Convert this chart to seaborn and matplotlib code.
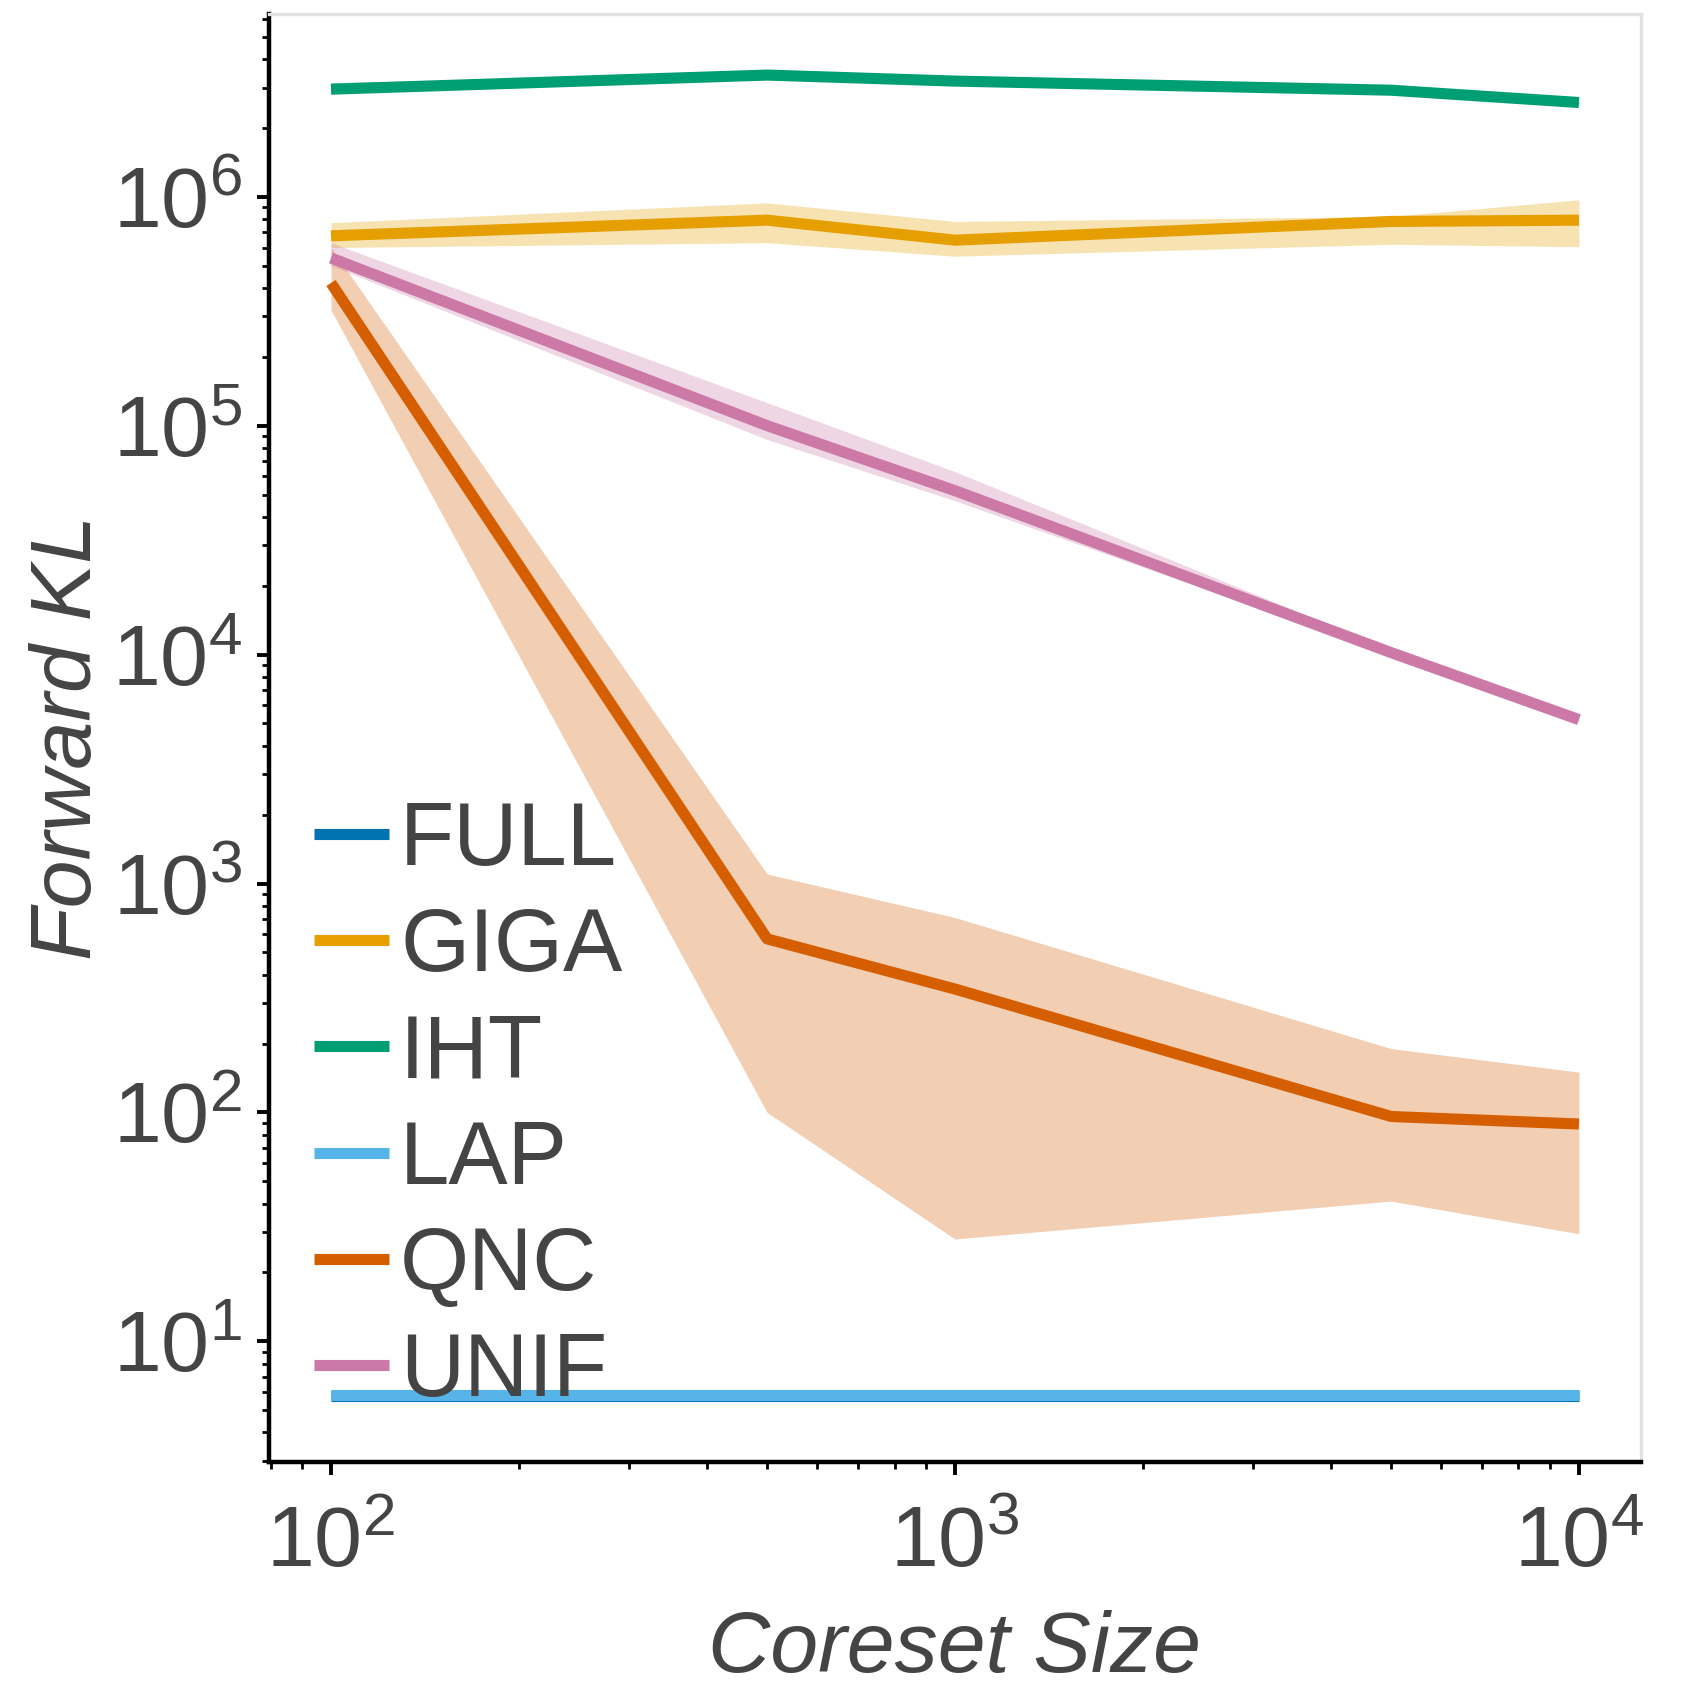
import seaborn as sns
import matplotlib.pyplot as plt
import numpy as np
import pandas as pd

# coreset sizes
sizes = [100, 500, 1000, 5000, 10000]
methods = ['FULL', 'GIGA', 'IHT', 'LAP', 'QNC', 'UNIF']

# median forward KL per method
full_kl = [5.75, 5.75, 5.75, 5.75, 5.75]
giga_kl = [6.75e5, 7.9e5, 6.46e5, 7.8e5, 7.9e5]
iht_kl = [2.95e6, 3.4e6, 3.2e6, 2.92e6, 2.58e6]
lap_kl = [5.85, 5.85, 5.85, 5.85, 5.85]
qnc_kl = [4.2e5, 573, 346, 96, 89]
unif_kl = [5.4e5, 1.0e5, 5.2e4, 1.02e4, 5.2e3]

# lower / upper band
full_lo = [5.7, 5.7, 5.7, 5.7, 5.7]
full_hi = [5.8, 5.8, 5.8, 5.8, 5.8]
giga_lo = [6.0e5, 6.3e5, 5.5e5, 6.2e5, 6.05e5]
giga_hi = [7.7e5, 9.4e5, 7.8e5, 8.2e5, 9.7e5]
iht_lo = [2.9e6, 3.35e6, 3.15e6, 2.88e6, 2.55e6]
iht_hi = [3.15e6, 3.45e6, 3.25e6, 2.97e6, 2.62e6]
lap_lo = [5.8, 5.8, 5.8, 5.8, 5.8]
lap_hi = [5.9, 5.9, 5.9, 5.9, 5.9]
qnc_lo = [3.2e5, 100, 28, 41, 29.5]
qnc_hi = [6.0e5, 1.1e3, 710, 190, 150]
unif_lo = [5.0e5, 8.7e4, 4.7e4, 1.0e4, 5.1e3]
unif_hi = [6.3e5, 1.26e5, 6.3e4, 1.05e4, 5.3e3]

colors = ['#0072B2', '#E69F00', '#009E73', '#56B4E9', '#D55E00', '#CC79A7']

meds = [full_kl, giga_kl, iht_kl, lap_kl, qnc_kl, unif_kl]
los = [full_lo, giga_lo, iht_lo, lap_lo, qnc_lo, unif_lo]
his = [full_hi, giga_hi, iht_hi, lap_hi, qnc_hi, unif_hi]

df = pd.DataFrame({
    'size': np.tile(sizes, len(methods)),
    'method': np.repeat(methods, len(sizes)),
    'kl': np.concatenate(meds),
    'lo': np.concatenate(los),
    'hi': np.concatenate(his),
})

sns.set_theme(style='white')
plt.rcParams['font.family'] = ['Liberation Sans', 'DejaVu Sans']
plt.rcParams['text.color'] = '#444444'
plt.rcParams['axes.labelcolor'] = '#444444'
plt.rcParams['xtick.color'] = 'black'
plt.rcParams['ytick.color'] = 'black'
plt.rcParams['xtick.labelcolor'] = '#444444'
plt.rcParams['ytick.labelcolor'] = '#444444'

fig, ax = plt.subplots(figsize=(8.5, 8.5), dpi=200)
fig.subplots_adjust(left=0.158, right=0.9655, bottom=0.140, top=0.992)

palette = dict(zip(methods, colors))

# shaded bands first
for m in methods:
    d = df[df['method'] == m]
    ax.fill_between(d['size'], d['lo'], d['hi'], color=palette[m], alpha=0.3, lw=0)

sns.lineplot(data=df, x='size', y='kl', hue='method', palette=palette,
             hue_order=methods, linewidth=4, ax=ax, errorbar=None)
for line in ax.get_lines():
    line.set_solid_capstyle('butt')

ax.set_xscale('log')
ax.set_yscale('log')
ax.set_xlim(10 ** 1.9, 10 ** 4.1)
ax.set_ylim(10 ** 0.473, 10 ** 6.80)
ax.xaxis.set_minor_formatter(plt.NullFormatter())
ax.yaxis.set_minor_formatter(plt.NullFormatter())

ax.set_xlabel('Coreset Size', fontsize=31, style='italic', labelpad=9)
ax.set_ylabel('Forward KL', fontsize=31, style='italic', labelpad=1)

ax.tick_params(axis='both', which='major', labelsize=31, length=4.5, width=1.4,
               direction='out', pad=5, left=True, bottom=True)
ax.tick_params(axis='both', which='minor', length=2.5, width=1.0,
               direction='out', left=True, bottom=True)
ax.tick_params(axis='x', which='major', pad=11)

for side in ['left', 'bottom']:
    ax.spines[side].set_color('black')
    ax.spines[side].set_linewidth(1.6)
for side in ['top', 'right']:
    ax.spines[side].set_color('#e3e3e3')
    ax.spines[side].set_linewidth(1.2)

leg = ax.legend(loc='lower left', frameon=False, fontsize=32, handlelength=0.85,
                handletextpad=0.12, labelspacing=0.25, borderaxespad=0.0,
                borderpad=0.2, bbox_to_anchor=(0.02, 0.02))
for line in leg.get_lines():
    line.set_linewidth(4)
    line.set_solid_capstyle('butt')

fig.savefig('out.png', dpi=200)
